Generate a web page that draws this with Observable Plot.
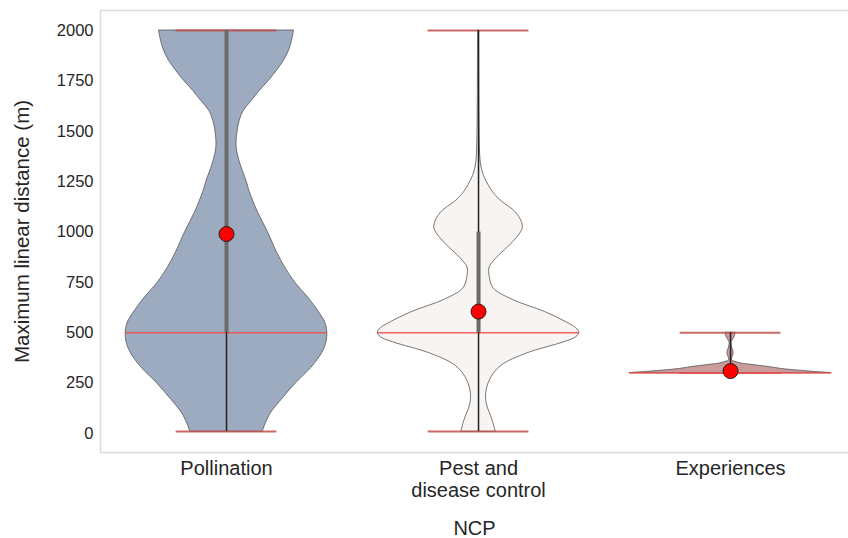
<!DOCTYPE html>
<html>
<head>
<meta charset="utf-8">
<script src="https://cdn.jsdelivr.net/npm/d3@7"></script>
<script src="https://cdn.jsdelivr.net/npm/@observablehq/plot@0.6"></script>
<style>
  html, body { margin: 0; padding: 0; background: #fff; }
  #chart svg { display: block; }
</style>
</head>
<body>
<div id="chart"></div>
<script>
// ---- data ----
const categories = ["Pollination", "Pest and\ndisease control", "Experiences"];
const yTicks = [0, 250, 500, 750, 1000, 1250, 1500, 1750, 2000];

// violin profiles: value (m) and relative density (max = 1)
const pollinationValues = [10, 50, 100, 175, 250, 325, 400, 450, 500, 550, 600, 675, 743, 825, 900, 1000, 1100, 1200, 1250, 1350, 1425, 1500, 1550, 1600, 1650, 1700, 1750, 1800, 1850, 1900, 1950, 2000];
const pollinationDensity = [0.36, 0.39, 0.44, 0.56, 0.69, 0.84, 0.95, 0.99, 1.0, 0.98, 0.92, 0.81, 0.69, 0.58, 0.50, 0.41, 0.31, 0.23, 0.20, 0.13, 0.10, 0.11, 0.13, 0.17, 0.25, 0.33, 0.42, 0.50, 0.57, 0.62, 0.65, 0.67];

const pestValues = [10, 65, 150, 213, 280, 337, 397, 453, 478, 500, 522, 547, 603, 663, 720, 780, 824, 870, 923, 970, 1022, 1092, 1156, 1200, 1256, 1300, 1355, 1450, 1600, 1800, 2000];
const pestDensity = [0.17, 0.14, 0.08, 0.08, 0.13, 0.23, 0.48, 0.85, 0.97, 1.0, 0.97, 0.89, 0.66, 0.34, 0.15, 0.11, 0.11, 0.18, 0.29, 0.38, 0.44, 0.38, 0.22, 0.14, 0.075, 0.04, 0.02, 0.012, 0.008, 0.006, 0.005];

const experiencesValues = [300, 305, 311, 320, 330, 340, 347, 355, 362, 380, 395, 405, 420, 440, 453, 470, 485, 500];
const experiencesDensity = [1.0, 0.85, 0.70, 0.51, 0.38, 0.22, 0.11, 0.05, 0.015, 0.02, 0.03, 0.03, 0.02, 0.01, 0.01, 0.03, 0.045, 0.05];

// summary statistics
const minValues = [10, 10, 300];
const maxValues = [2000, 2000, 500];
const medianValues = [500, 500, 300];
const q1Values = [500, 500, 300];
const q3Values = [2000, 1000, 300];
const meanValues = [990, 605, 310];

const violinFills = ["#9dabc1", "#f7f4f2", "#c99b9b"];

// ---- build tables ----
const profiles = [
  [pollinationValues, pollinationDensity],
  [pestValues, pestDensity],
  [experiencesValues, experiencesDensity]
].map(([vals, dens], i) => vals.map((v, j) => ({i, v, d: dens[j]})));

const stats = categories.map((c, i) => ({
  i, min: minValues[i], max: maxValues[i], median: medianValues[i],
  q1: q1Values[i], q3: q3Values[i], mean: meanValues[i]
}));

const halfViolin = 0.4;   // maximum half-width of a violin, in category units
const halfExtrema = 0.2;  // half-width of the min/max bars
const yDomain = [-94.3, 2099.3];
const xDomain = [-0.5, 2.468];

const violinMarks = profiles.map((rows, i) => Plot.areaX(rows, {
  y: "v",
  x1: d => d.i - halfViolin * d.d,
  x2: d => d.i + halfViolin * d.d,
  curve: "catmull-rom",
  fill: violinFills[i],
  stroke: "#555",
  strokeWidth: 0.8
}));

const chart = Plot.plot({
  width: 848,
  height: 538,
  marginLeft: 100,
  marginRight: 0,
  marginTop: 10,
  marginBottom: 86,
  x: {type: "linear", domain: xDomain, axis: null},
  y: {domain: yDomain, axis: null},
  style: {fontFamily: "'Liberation Sans', Arial, Helvetica, sans-serif", color: "#262626", background: "#fff"},
  marks: [
    // frame (left, top, bottom)
    Plot.ruleX([xDomain[0]], {stroke: "#dcdcdc", strokeWidth: 1.5}),
    Plot.ruleY([yDomain[0], yDomain[1]], {stroke: "#dcdcdc", strokeWidth: 1.5}),
    ...violinMarks,
    // extrema bars
    Plot.ruleY(stats, {y: "min", x1: d => d.i - halfExtrema, x2: d => d.i + halfExtrema, stroke: "#c0504d", strokeOpacity: 0.85, strokeWidth: 1.8}),
    Plot.ruleY(stats, {y: "max", x1: d => d.i - halfExtrema, x2: d => d.i + halfExtrema, stroke: "#c0504d", strokeOpacity: 0.85, strokeWidth: 1.8}),
    // median bars
    Plot.ruleY(stats, {y: "median", x1: d => d.i - halfViolin, x2: d => d.i + halfViolin, stroke: "#f24f4f", strokeOpacity: 0.9, strokeWidth: 1.6}),
    // inner box: whisker + IQR
    Plot.ruleX(stats, {x: "i", y1: "min", y2: "max", stroke: "#222", strokeWidth: 1.5}),
    Plot.ruleX(stats, {x: "i", y1: "q1", y2: "q3", stroke: "#6b6b6b", strokeWidth: 4}),
    // means
    Plot.dot(stats, {x: "i", y: "mean", r: 7.5, fill: "#ff0000", stroke: "#222", strokeWidth: 1}),
    // axes
    Plot.axisY({ticks: yTicks, tickFormat: d => String(d), tickSize: 0, tickPadding: 7, fontSize: 16.5, label: null}),
    Plot.axisX({ticks: [0, 1, 2], tickFormat: i => categories[i], tickSize: 0, tickPadding: 7, fontSize: 20, lineHeight: 1.1, label: null}),
    // axis titles
    Plot.text(["NCP"], {text: d => d, frameAnchor: "bottom", dy: 68, lineAnchor: "top", textAnchor: "middle", fontSize: 20}),
    Plot.text(["Maximum linear distance (m)"], {text: d => d, frameAnchor: "left", dx: -78, rotate: -90, textAnchor: "middle", lineAnchor: "middle", fontSize: 20.5})
  ]
});

document.getElementById("chart").appendChild(chart);
</script>
</body>
</html>
